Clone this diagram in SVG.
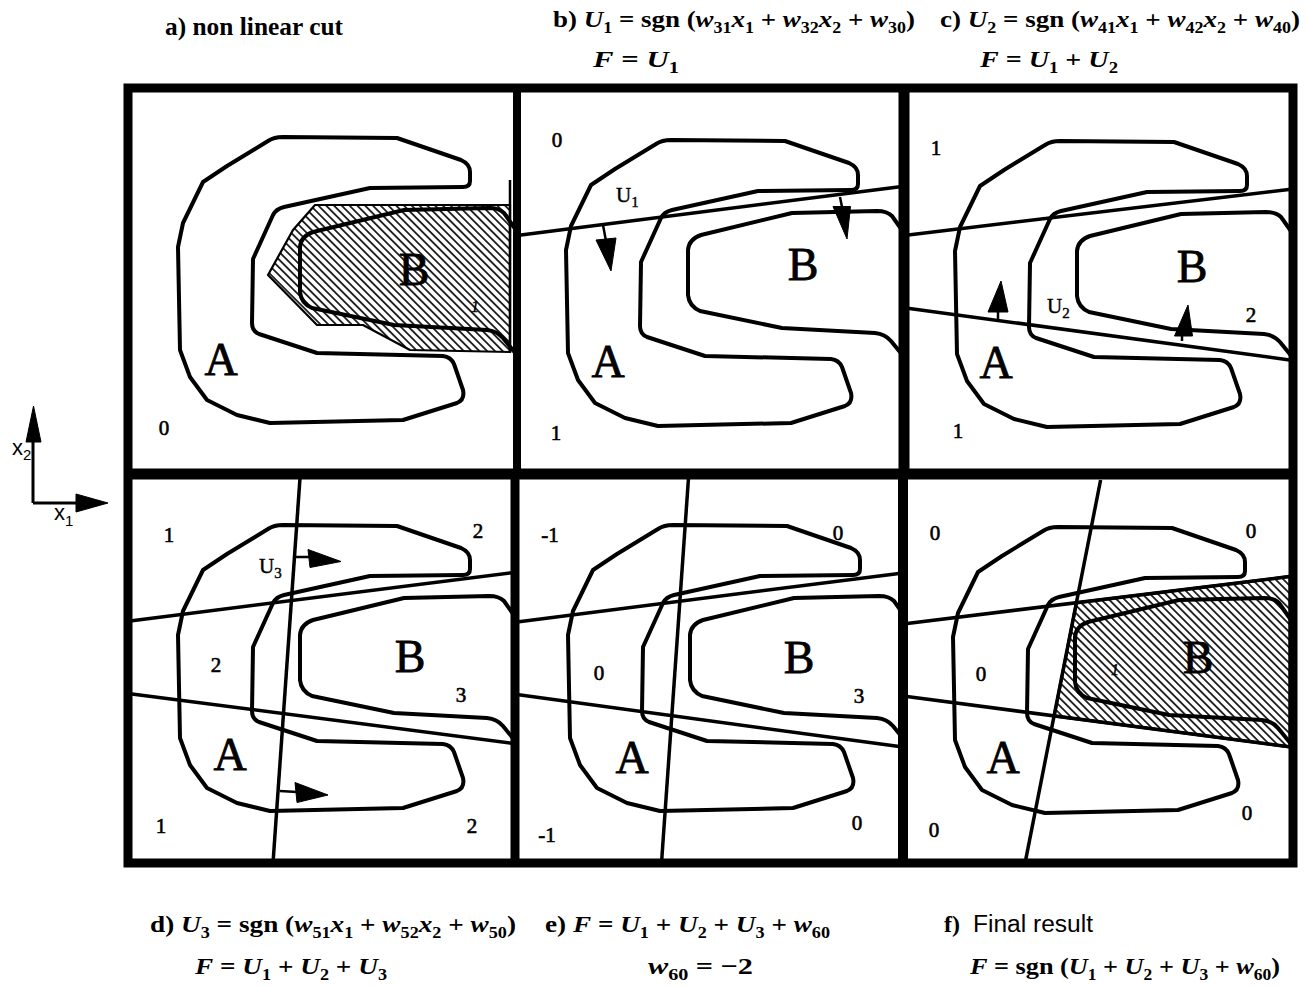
<svg xmlns="http://www.w3.org/2000/svg" xmlns:xlink="http://www.w3.org/1999/xlink" width="1306" height="987" viewBox="0 0 1306 987">
<style>
.c{fill:none;stroke:#000;stroke-width:4;stroke-linejoin:round;stroke-linecap:round}
.l{stroke:#000;stroke-width:3.5;fill:none}
.h{fill:url(#hatch);stroke:#000;stroke-width:2.2;stroke-linejoin:round}
.ah{fill:#000;stroke:#000;stroke-width:1;stroke-linejoin:round}
.st{stroke:#000;stroke-width:2.5;fill:none}
.fr{fill:none;stroke:#000}
.n{font-family:"Liberation Serif",serif;font-size:21px;text-anchor:middle;stroke:#000;stroke-width:0.6}
.L{font-family:"Liberation Serif",serif;font-size:46px;text-anchor:middle;stroke:#000;stroke-width:0.8}
.u{font-family:"Liberation Serif",serif;font-size:21px;stroke:#000;stroke-width:0.4}
.t{font-family:"Liberation Serif",serif;font-size:24px;font-weight:bold}
.i{font-style:italic}
.s{font-size:16px}
.us{font-size:15px}
.ax{font-family:"Liberation Sans",Arial,sans-serif;font-size:22px}
.axs{font-size:15px}
.sf{font-family:"Liberation Sans",Arial,sans-serif;font-size:23px}
</style>
<defs>
<pattern id="hatch" patternUnits="userSpaceOnUse" width="5.5" height="5.5" patternTransform="rotate(45)">
<line x1="0" y1="2.75" x2="5.5" y2="2.75" stroke="#000" stroke-width="1.6"/>
</pattern>
<path id="shA" class="c" d="M283,137 L397,138 L461,160 Q470,164 470,172 L470,181 Q470,187 463,187 L370,188 L284,207 Q276,209 273,215 L253,259 L252,323 Q252,331 259,334 L317,353 L443,356 Q451,357 454,364 L463,390 Q465,400 457,403 L403,420 L270,423 L237,415 L207,400 L190,377 L180,350 L178,247 L183,223 L203,182 L227,166 L268,141 Q274,137 283,137 Z"/>
<path id="shB" class="c" d="M516,230 L504,213 Q499,208 489,208 L404,210 L313,232 Q301,236 300,247 L300,292 Q301,303 312,308 L394,325 L487,330 Q497,331 503,338 L516,354"/>
</defs>
<rect width="1306" height="987" fill="#fff"/>

<g id="panel-a">
<polygon class="h" points="315,205 510,205 510,352 410,350 363,325 317,325 268,275 293,230"/>
<use xlink:href="#shA" href="#shA"/>
<use xlink:href="#shB" href="#shB"/>
<line class="st" x1="510" y1="180" x2="510" y2="353"/>
<text class="L" x="221" y="375">A</text>
<text class="L" x="414" y="285">B</text>
<text class="n" x="164" y="435">0</text>
<text class="n i" x="475" y="312" style="font-size:17px;stroke-width:0.3">1</text>
</g>

<g id="panel-b">
<use xlink:href="#shA" href="#shA" transform="translate(388,3)"/>
<use xlink:href="#shB" href="#shB" transform="translate(388,3)"/>
<text class="L" x="608" y="377">A</text>
<text class="L" x="803" y="280">B</text>
<text class="n" x="557" y="147">0</text>
<text class="n" x="556" y="440">1</text>
<text class="u" x="616" y="202">U<tspan class="us" dy="5">1</tspan></text>
</g>

<g id="panel-c">
<use xlink:href="#shA" href="#shA" transform="translate(777,4)"/>
<use xlink:href="#shB" href="#shB" transform="translate(777,4)"/>
<text class="L" x="996" y="378">A</text>
<text class="L" x="1192" y="282">B</text>
<text class="n" x="936" y="155">1</text>
<text class="n" x="958" y="438">1</text>
<text class="n" x="1251" y="322">2</text>
<text class="u" x="1047" y="313">U<tspan class="us" dy="5">2</tspan></text>
</g>

<g id="panel-d">
<use xlink:href="#shA" href="#shA" transform="translate(0,388)"/>
<use xlink:href="#shB" href="#shB" transform="translate(0,388)"/>
<text class="L" x="230" y="770">A</text>
<text class="L" x="410" y="672">B</text>
<text class="n" x="169" y="542">1</text>
<text class="n" x="478" y="538">2</text>
<text class="n" x="216" y="672">2</text>
<text class="n" x="461" y="702">3</text>
<text class="n" x="161" y="833">1</text>
<text class="n" x="472" y="833">2</text>
<text class="u" x="259" y="573">U<tspan class="us" dy="5">3</tspan></text>
</g>

<g id="panel-e">
<use xlink:href="#shA" href="#shA" transform="translate(390,388)"/>
<use xlink:href="#shB" href="#shB" transform="translate(390,388)"/>
<text class="L" x="632" y="773">A</text>
<text class="L" x="799" y="673">B</text>
<text class="n" x="550" y="542">-1</text>
<text class="n" x="838" y="540">0</text>
<text class="n" x="599" y="680">0</text>
<text class="n" x="859" y="703">3</text>
<text class="n" x="857" y="830">0</text>
<text class="n" x="547" y="842">-1</text>
</g>

<g id="panel-f">
<polygon class="h" points="1076.4,602.7 1290,576.5 1290,746.9 1054.2,716" style="stroke-width:3"/>
<use xlink:href="#shA" href="#shA" transform="translate(775,390)"/>
<use xlink:href="#shB" href="#shB" transform="translate(775,390)"/>
<text class="L" x="1003" y="773">A</text>
<text class="L" x="1198" y="673">B</text>
<text class="n" x="935" y="540">0</text>
<text class="n" x="1251" y="538">0</text>
<text class="n" x="981" y="681">0</text>
<text class="n i" x="1115" y="675" style="font-size:17px;stroke-width:0.3">1</text>
<text class="n" x="1247" y="820">0</text>
<text class="n" x="934" y="837">0</text>
</g>

<g id="connectors">
<line class="l" x1="517" y1="235.6" x2="904" y2="186.2"/>
<line class="l" x1="904" y1="235.5" x2="1293" y2="188.9"/>
<line class="l" x1="904" y1="307.7" x2="1293" y2="360.4"/>
<line class="l" x1="128" y1="621.2" x2="515" y2="572.3"/>
<line class="l" x1="128" y1="693.5" x2="515" y2="743.7"/>
<line class="l" x1="300" y1="478" x2="273" y2="863"/>
<line class="l" x1="515" y1="622.3" x2="903" y2="572.9"/>
<line class="l" x1="515" y1="694.3" x2="903" y2="747.1"/>
<line class="l" x1="688.5" y1="478" x2="661.5" y2="863"/>
<line class="l" x1="903" y1="624" x2="1293" y2="576.1"/>
<line class="l" x1="903" y1="696" x2="1293" y2="747.3"/>
<line class="l" x1="1100.6" y1="480" x2="1025" y2="863.3"/>
<path class="st" d="M603,225 L606,241 M840,197 L842,207 M998,320 L998,311 M1182,341 L1182,335 M295,557 L310,557 M280,791 L297,792"/>
<polygon class="ah" points="596,240 616,238 611,271"/>
<polygon class="ah" points="833,206.5 850.5,206.5 847,239"/>
<polygon class="ah" points="988,312 1008,312 1001,281"/>
<polygon class="ah" points="1174.5,336 1192.5,336 1188,305"/>
<polygon class="ah" points="308,549.5 310,567.5 341,561.5"/>
<polygon class="ah" points="295,782.5 297,802.5 328,795"/>
</g>

<g id="frame">
<rect class="fr" x="128" y="88" width="1165" height="775" stroke-width="9"/>
<line class="fr" x1="128" y1="474" x2="1293" y2="474" stroke-width="11"/>
<line class="fr" x1="517" y1="88" x2="517" y2="474" stroke-width="8"/>
<line class="fr" x1="515" y1="474" x2="515" y2="863" stroke-width="9"/>
<line class="fr" x1="904" y1="88" x2="904" y2="474" stroke-width="11"/>
<line class="fr" x1="903" y1="474" x2="903" y2="863" stroke-width="10"/>
</g>

<g id="axes">
<path class="st" d="M33,503 L33,440 M33,503 L78,503" style="stroke-width:3"/>
<polygon class="ah" points="26,442 41,442 33.5,406"/>
<polygon class="ah" points="76,494 76,512 108,503"/>
<text class="ax" x="12" y="455">x<tspan class="axs" dy="5">2</tspan></text>
<text class="ax" x="54" y="520">x<tspan class="axs" dy="6">1</tspan></text>
</g>

<g id="labels">
<text class="t" x="165" y="35" style="font-size:25px" textLength="178" lengthAdjust="spacingAndGlyphs">a) non linear cut</text>
<text class="t" x="553" y="27" textLength="362" lengthAdjust="spacingAndGlyphs">b) <tspan class="i">U</tspan><tspan class="s" dy="6">1</tspan><tspan dy="-6"> = sgn (</tspan><tspan class="i">w</tspan><tspan class="s" dy="6">31</tspan><tspan class="i" dy="-6">x</tspan><tspan class="s" dy="6">1</tspan><tspan dy="-6"> + </tspan><tspan class="i">w</tspan><tspan class="s" dy="6">32</tspan><tspan class="i" dy="-6">x</tspan><tspan class="s" dy="6">2</tspan><tspan dy="-6"> + </tspan><tspan class="i">w</tspan><tspan class="s" dy="6">30</tspan><tspan dy="-6">)</tspan></text>
<text class="t" x="593" y="67" textLength="86" lengthAdjust="spacingAndGlyphs"><tspan class="i">F</tspan> = <tspan class="i">U</tspan><tspan class="s" dy="6">1</tspan></text>
<text class="t" x="940" y="27" textLength="360" lengthAdjust="spacingAndGlyphs">c) <tspan class="i">U</tspan><tspan class="s" dy="6">2</tspan><tspan dy="-6"> = sgn (</tspan><tspan class="i">w</tspan><tspan class="s" dy="6">41</tspan><tspan class="i" dy="-6">x</tspan><tspan class="s" dy="6">1</tspan><tspan dy="-6"> + </tspan><tspan class="i">w</tspan><tspan class="s" dy="6">42</tspan><tspan class="i" dy="-6">x</tspan><tspan class="s" dy="6">2</tspan><tspan dy="-6"> + </tspan><tspan class="i">w</tspan><tspan class="s" dy="6">40</tspan><tspan dy="-6">)</tspan></text>
<text class="t" x="980" y="67" textLength="138" lengthAdjust="spacingAndGlyphs"><tspan class="i">F</tspan> = <tspan class="i">U</tspan><tspan class="s" dy="6">1</tspan><tspan dy="-6"> + </tspan><tspan class="i">U</tspan><tspan class="s" dy="6">2</tspan></text>
<text class="t" x="150" y="932" textLength="366" lengthAdjust="spacingAndGlyphs">d) <tspan class="i">U</tspan><tspan class="s" dy="6">3</tspan><tspan dy="-6"> = sgn (</tspan><tspan class="i">w</tspan><tspan class="s" dy="6">51</tspan><tspan class="i" dy="-6">x</tspan><tspan class="s" dy="6">1</tspan><tspan dy="-6"> + </tspan><tspan class="i">w</tspan><tspan class="s" dy="6">52</tspan><tspan class="i" dy="-6">x</tspan><tspan class="s" dy="6">2</tspan><tspan dy="-6"> + </tspan><tspan class="i">w</tspan><tspan class="s" dy="6">50</tspan><tspan dy="-6">)</tspan></text>
<text class="t" x="195" y="974" textLength="192" lengthAdjust="spacingAndGlyphs"><tspan class="i">F</tspan> = <tspan class="i">U</tspan><tspan class="s" dy="6">1</tspan><tspan dy="-6"> + </tspan><tspan class="i">U</tspan><tspan class="s" dy="6">2</tspan><tspan dy="-6"> + </tspan><tspan class="i">U</tspan><tspan class="s" dy="6">3</tspan></text>
<text class="t" x="545" y="932" textLength="285" lengthAdjust="spacingAndGlyphs">e) <tspan class="i">F</tspan> = <tspan class="i">U</tspan><tspan class="s" dy="6">1</tspan><tspan dy="-6"> + </tspan><tspan class="i">U</tspan><tspan class="s" dy="6">2</tspan><tspan dy="-6"> + </tspan><tspan class="i">U</tspan><tspan class="s" dy="6">3</tspan><tspan dy="-6"> + </tspan><tspan class="i">w</tspan><tspan class="s" dy="6">60</tspan></text>
<text class="t" x="648" y="974" textLength="105" lengthAdjust="spacingAndGlyphs"><tspan class="i">w</tspan><tspan class="s" dy="6">60</tspan><tspan dy="-6"> = −2</tspan></text>
<text class="t" x="944" y="932">f)</text>
<text class="sf" x="973" y="932" textLength="120" lengthAdjust="spacingAndGlyphs">Final result</text>
<text class="t" x="970" y="974" textLength="310" lengthAdjust="spacingAndGlyphs"><tspan class="i">F</tspan> = sgn (<tspan class="i">U</tspan><tspan class="s" dy="6">1</tspan><tspan dy="-6"> + </tspan><tspan class="i">U</tspan><tspan class="s" dy="6">2</tspan><tspan dy="-6"> + </tspan><tspan class="i">U</tspan><tspan class="s" dy="6">3</tspan><tspan dy="-6"> + </tspan><tspan class="i">w</tspan><tspan class="s" dy="6">60</tspan><tspan dy="-6">)</tspan></text>
</g>
</svg>
